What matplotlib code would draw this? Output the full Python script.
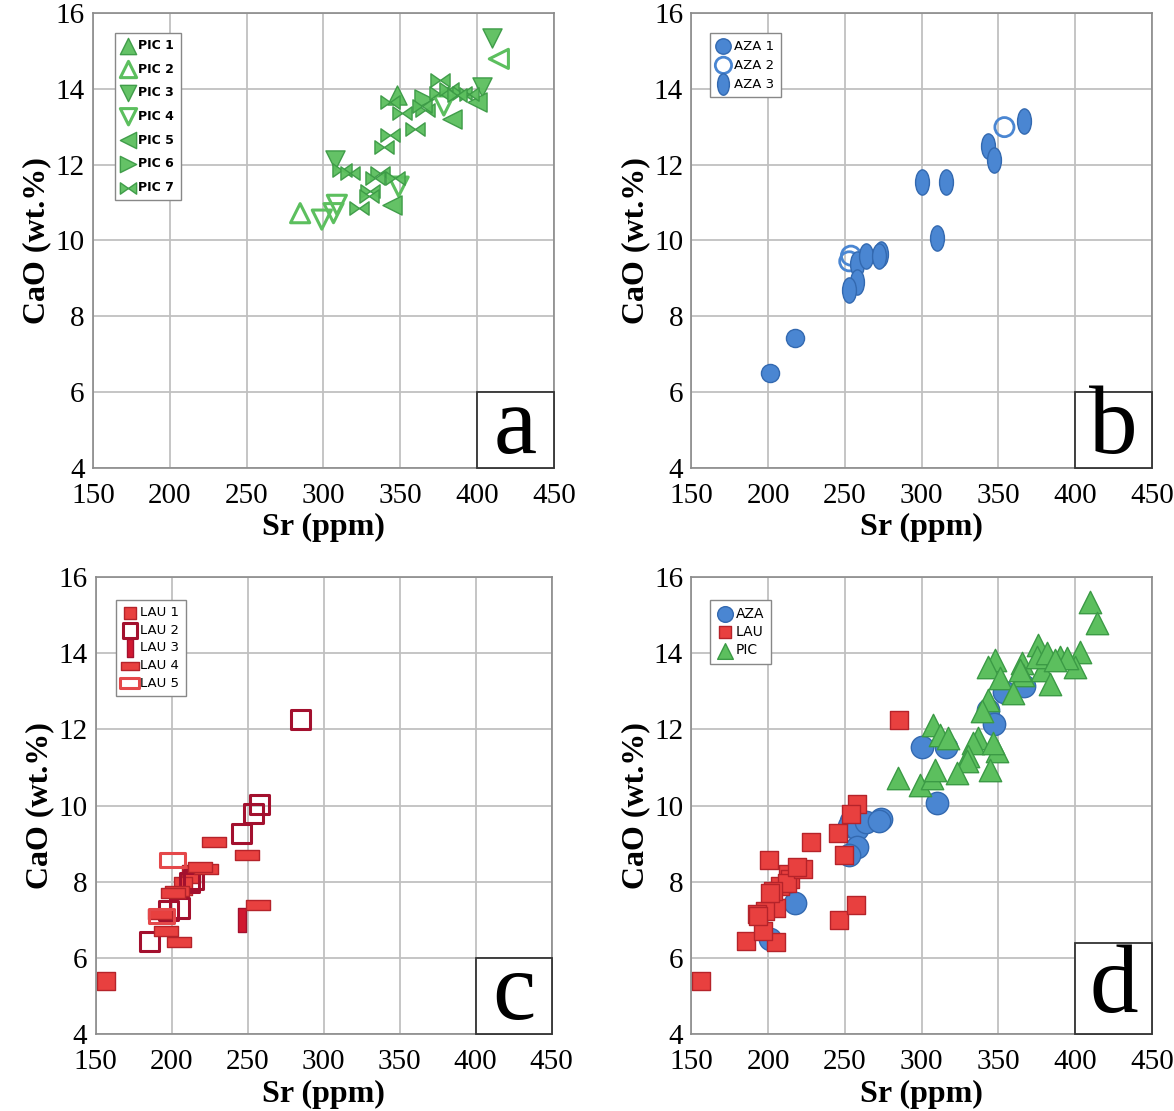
import matplotlib.pyplot as plt
from matplotlib.path import Path
from matplotlib.patches import Rectangle
import numpy as np

# ---- data (Sr ppm, CaO wt.%) ----
pic1_sr = [347.8]
pic1_cao = [13.83]
pic2_sr = [284.8]
pic2_cao = [10.72]
pic3_sr = [409.8, 307.6, 403.3]
pic3_cao = [15.35, 12.12, 14.04]
pic4_sr = [298.9, 306.5, 308.7, 378.3, 348.9]
pic4_cao = [10.55, 10.72, 10.94, 13.56, 11.42]
pic5_sr = [383.7, 344.6, 400.0]
pic5_cao = [13.2, 10.94, 13.65]
pic6_sr = [365.2]
pic6_cao = [13.74]
pic7_sr = [376.0, 375.0, 381.5, 390.2, 394.6, 387.0, 366.3, 364.1, 343.5, 351.0, 359.8,
           343.5, 339.1, 312.0, 317.4, 337.0, 333.7, 346.7, 330.4, 329.3, 322.8]
pic7_cao = [14.22, 13.9, 14.0, 13.9, 13.87, 13.83, 13.43, 13.56, 13.65, 13.35, 12.95,
            12.78, 12.47, 11.86, 11.77, 11.77, 11.64, 11.64, 11.3, 11.16, 10.86]
pic_extra_sr = [414.1]   # open left triangle, not in legend
pic_extra_cao = [14.79]

aza1_sr = [201.0, 217.4]
aza1_cao = [6.5, 7.43]
aza2_sr = [353.9, 253.9, 252.8]
aza2_cao = [12.99, 9.6, 9.45]
aza3_sr = [366.8, 343.1, 346.8, 300.0, 315.9, 309.7, 257.6, 263.7, 273.3, 272.4, 257.6, 252.8]
aza3_cao = [13.15, 12.5, 12.13, 11.55, 11.55, 10.06, 9.39, 9.58, 9.65, 9.6, 8.91, 8.7]

lau1_sr = [156.5, 213.0, 207.6]
lau1_cao = [5.4, 8.19, 7.89]
lau2_sr = [257.6, 253.7, 245.7, 285.0, 185.4, 205.0, 214.1, 197.8, 212.0]
lau2_cao = [10.03, 9.78, 9.27, 12.25, 6.43, 7.31, 8.06, 7.24, 7.97]
lau3_sr = [246.1]
lau3_cao = [6.99]
lau4_sr = [227.8, 249.6, 257.0, 204.8, 196.3, 203.3, 222.8, 218.5, 201.1, 192.4]
lau4_cao = [9.05, 8.7, 7.4, 6.41, 6.7, 7.75, 8.33, 8.39, 7.71, 7.14]
lau5_sr = [200.7, 193.4]
lau5_cao = [8.57, 7.1]

# ---- custom markers ----
bowtie = Path([(-1, -0.7), (0, 0), (-1, 0.7), (-1, -0.7), (1, -0.7), (0, 0), (1, 0.7), (1, -0.7)],
              [Path.MOVETO, Path.LINETO, Path.LINETO, Path.CLOSEPOLY,
               Path.MOVETO, Path.LINETO, Path.LINETO, Path.CLOSEPOLY])
circ = Path.unit_circle()
ellipse_v = Path(circ.vertices * np.array([0.55, 1.0]), circ.codes)
def rect(w, h):
    return Path([(-w, -h), (w, -h), (w, h), (-w, h), (-w, -h)],
                [Path.MOVETO, Path.LINETO, Path.LINETO, Path.LINETO, Path.CLOSEPOLY])
bar_v = rect(0.38, 1.0)
bar_h = rect(1.0, 0.45)
wide_rect = rect(1.0, 0.55)

green = '#5cbf5e'
green_e = '#3b9a45'
blue = '#4a86d2'
blue_e = '#3369b0'
red = '#e8403f'
red_e = '#b5232a'
dark_red = '#a3102e'

plt.rcParams['font.family'] = 'Liberation Serif'
fig = plt.figure(figsize=(11.74, 11.11), dpi=100)

positions = [[0.0792, 0.5788, 0.3927, 0.4095],
             [0.589, 0.5788, 0.3922, 0.4095],
             [0.0815, 0.0693, 0.3884, 0.4113],
             [0.589, 0.0693, 0.3922, 0.4113]]
axes = [fig.add_axes(p) for p in positions]

for ax in axes:
    ax.set_xlim(150, 450)
    ax.set_ylim(4, 16)
    ax.set_xticks(range(150, 451, 50))
    ax.set_yticks(range(4, 17, 2))
    ax.grid(True, color='#c0c0c0', linewidth=1.3)
    ax.set_axisbelow(True)
    for s in ax.spines.values():
        s.set_color('#8a8a8a')
        s.set_linewidth(1.2)
    ax.tick_params(length=0, labelsize=21)
    ax.tick_params(axis='x', pad=11)
    ax.tick_params(axis='y', pad=6)
    ax.set_xlabel('Sr (ppm)', fontsize=23, fontweight='bold', labelpad=3)
    ax.set_ylabel('CaO (wt.%)', fontsize=23, fontweight='bold', labelpad=3)

leg_kw = dict(loc='upper left', fancybox=False, edgecolor='#888888', framealpha=1,
              handletextpad=0.25, borderpad=0.5, handlelength=1.1)

# panel a
ax = axes[0]
kw = dict(s=190, linewidths=1, alpha=0.95)
ax.scatter(pic1_sr, pic1_cao, marker='^', color=green, edgecolors=green_e, label='PIC 1', **kw)
ax.scatter(pic2_sr, pic2_cao, marker='^', facecolors='none', edgecolors=green, label='PIC 2', s=190, linewidths=2.2)
ax.scatter(pic3_sr, pic3_cao, marker='v', color=green, edgecolors=green_e, label='PIC 3', **kw)
ax.scatter(pic4_sr, pic4_cao, marker='v', facecolors='none', edgecolors=green, label='PIC 4', s=190, linewidths=2.2)
ax.scatter(pic5_sr, pic5_cao, marker='<', color=green, edgecolors=green_e, label='PIC 5', **kw)
ax.scatter(pic6_sr, pic6_cao, marker='>', color=green, edgecolors=green_e, label='PIC 6', **kw)
ax.scatter(pic7_sr, pic7_cao, marker=bowtie, color=green, edgecolors=green_e, label='PIC 7', **kw)
ax.scatter(pic_extra_sr, pic_extra_cao, marker='<', facecolors='none', edgecolors=green, s=190, linewidths=2.2)
ax.legend(bbox_to_anchor=(0.035, 0.97), prop={'family': 'DejaVu Sans', 'size': 9, 'weight': 'bold'},
          markerscale=0.85, labelspacing=0.85, **leg_kw)

# panel b
ax = axes[1]
ax.scatter(aza1_sr, aza1_cao, marker='o', color=blue, edgecolors=blue_e, s=170, label='AZA 1')
ax.scatter(aza2_sr, aza2_cao, marker='o', facecolors='none', edgecolors=blue, s=190, linewidths=2, label='AZA 2')
ax.scatter(aza3_sr, aza3_cao, marker=ellipse_v, color=blue, edgecolors=blue_e, s=330, label='AZA 3')
ax.legend(bbox_to_anchor=(0.025, 0.97), prop={'family': 'DejaVu Sans', 'size': 9.5},
          markerscale=0.85, labelspacing=0.45, **leg_kw)

# panel c
ax = axes[2]
ax.scatter(lau1_sr, lau1_cao, marker='s', color=red, edgecolors=red_e, s=150, label='LAU 1')
ax.scatter(lau2_sr, lau2_cao, marker='s', facecolors='none', edgecolors=dark_red, s=190, linewidths=2.2, label='LAU 2')
ax.scatter(lau3_sr, lau3_cao, marker=bar_v, color='#d01830', edgecolors=dark_red, s=280, label='LAU 3')
ax.scatter(lau4_sr, lau4_cao, marker=bar_h, color=red, edgecolors=red_e, s=300, label='LAU 4')
ax.scatter(lau5_sr, lau5_cao, marker=wide_rect, facecolors='none', edgecolors='#e5484a', s=330, linewidths=2.2, label='LAU 5')
ax.legend(bbox_to_anchor=(0.03, 0.965), prop={'family': 'DejaVu Sans', 'size': 9.5},
          markerscale=0.75, labelspacing=0.35, **leg_kw)

# panel d: all groups together
ax = axes[3]
aza_sr = aza1_sr + aza2_sr + aza3_sr
aza_cao = aza1_cao + aza2_cao + aza3_cao
lau_sr = lau1_sr + lau2_sr + lau3_sr + lau4_sr + lau5_sr
lau_cao = lau1_cao + lau2_cao + lau3_cao + lau4_cao + lau5_cao
pic_sr = pic1_sr + pic2_sr + pic3_sr + pic4_sr + pic5_sr + pic6_sr + pic7_sr + pic_extra_sr
pic_cao = pic1_cao + pic2_cao + pic3_cao + pic4_cao + pic5_cao + pic6_cao + pic7_cao + pic_extra_cao
ax.scatter(aza_sr, aza_cao, marker='o', color=blue, edgecolors=blue_e, s=260, label='AZA')
ax.scatter(lau_sr, lau_cao, marker='s', color=red, edgecolors=red_e, s=170, label='LAU')
ax.scatter(pic_sr, pic_cao, marker='^', color=green, edgecolors=green_e, s=260, label='PIC')
ax.legend(bbox_to_anchor=(0.025, 0.965), prop={'family': 'DejaVu Sans', 'size': 10},
          markerscale=0.7, labelspacing=0.3, **leg_kw)

# boxed panel letters
for ax, letter, top in zip(axes, ['a', 'b', 'c', 'd'], [6.0, 6.0, 6.0, 6.4]):
    ax.add_patch(Rectangle((400, 4), 50, top - 4, facecolor='white', edgecolor='#333333',
                           linewidth=1.3, zorder=5, clip_on=False))
    ax.text(425, 4 + (top - 4) / 2, letter, fontsize=70, ha='center', va='center',
            family='Liberation Serif', zorder=6)

plt.savefig('out.png', dpi=100)
